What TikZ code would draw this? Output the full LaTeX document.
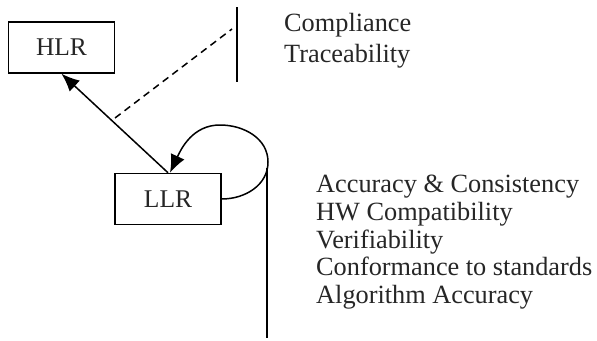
\documentclass[tikz,border=0pt]{standalone}
\usepackage{fontspec}
\setmainfont{Liberation Serif}
\usetikzlibrary{arrows.meta}
\begin{document}
\begin{tikzpicture}[x=1pt,y=-1pt,
  box/.style={draw,line width=1.5pt,minimum width=106pt,minimum height=51pt,inner sep=0pt,font=\fontsize{25.5}{28}\selectfont,text=black!85},
  lbl/.style={anchor=north west,align=left,inner sep=0pt,text=black!85},
  ln/.style={line width=1.5pt},
  tip/.style={-{Latex[length=18pt,width=15pt]}}]
\useasboundingbox (0,0) rectangle (597,340);
\node[box] (hlr) at (61.5,47.5) {HLR};
\node[box] (llr) at (168,199) {LLR};
\coordinate (vt) at (237,7);
\coordinate (vb) at (237,82);
\coordinate (dA) at (115,118);
\coordinate (dB) at (232,29);
\coordinate (ltop) at (267,168);
\coordinate (lbot) at (267,338);
\draw[ln] (vt) -- (vb);
\draw[ln,dashed,dash pattern=on 7pt off 5pt] (dA) -- (dB);
\draw[ln,tip] (llr.north) -- (hlr.south);
\draw[ln,tip] (llr.east) to[out=0,in=-90] (268,162) to[out=90,in=0] (220,125) to[out=180,in=65] ([xshift=2pt]llr.north);
\draw[ln] (ltop) -- (lbot);
\node[lbl,font=\fontsize{26.3}{30.5}\selectfont] (t1) at (284,13.2) {Compliance\\Traceability};
\node[lbl,font=\fontsize{26.3}{27.7}\selectfont] (t2) at (316,175.2) {Accuracy \& Consistency\\HW Compatibility\\Verifiability\\Conformance to standards\\Algorithm Accuracy};
\end{tikzpicture}
\end{document}
